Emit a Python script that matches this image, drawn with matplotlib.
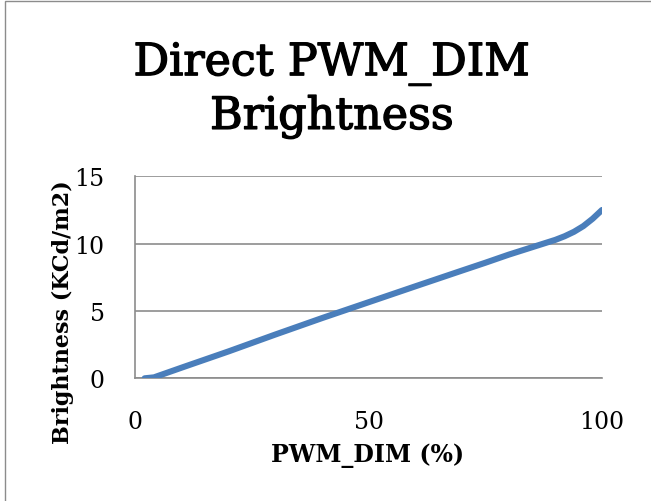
import matplotlib
matplotlib.use("Agg")
import matplotlib.pyplot as plt
import matplotlib.patheffects as pe
from matplotlib.patches import Rectangle

# ===========================
# データ
# ===========================
pwm_dim = [2, 4, 10, 20, 30, 40, 50, 60, 70, 75, 80, 85, 88, 90, 92, 94, 96, 98, 100]
brightness = [0.0, 0.07, 0.8, 2.0, 3.25, 4.47, 5.65, 6.83, 8.0, 8.58, 9.18, 9.73,
              10.06, 10.28, 10.55, 10.88, 11.3, 11.85, 12.5]

title = "Direct PWM_DIM\nBrightness"
x_label = "PWM_DIM (%)"
y_label = "Brightness (KCd/m2)"
x_ticks = [0, 50, 100]
y_ticks = [0, 5, 10, 15]

W, H = 651, 502
plt.rcParams['font.family'] = ['DejaVu Serif']

fig = plt.figure(figsize=(W / 100, H / 100), dpi=100)

# 外枠
fig.patches.append(Rectangle((5 / W, -0.1), 1.2, 1 - 2 / H + 0.1,
                             transform=fig.transFigure, fill=False,
                             edgecolor="#8c8c8c", linewidth=1.0))

ax = fig.add_axes([135.3 / W, 1 - 379.3 / H, (602 - 135.3) / W, (379.3 - 177.3) / H])

ax.plot(pwm_dim, brightness, color="#4A7EBB", linewidth=4.4,
        solid_capstyle="round", solid_joinstyle="round", zorder=3)

ax.set_xlim(0, 100)
ax.set_ylim(0, 15)
ax.set_xticks(x_ticks)
ax.set_yticks(y_ticks)
ax.tick_params(axis="both", length=0, labelsize=17)
ax.tick_params(axis="x", pad=23)
ax.tick_params(axis="y", pad=22)

ax.grid(axis="y", color="#8c8c8c", linewidth=1.2)
ax.set_axisbelow(True)
for s in ["top", "right"]:
    ax.spines[s].set_visible(False)
ax.spines["left"].set_color("#8c8c8c")
ax.spines["left"].set_linewidth(1.2)
ax.spines["bottom"].set_color("#8c8c8c")
ax.spines["bottom"].set_linewidth(1.2)

fig.text(332 / W, 1 - 91 / H, title, ha="center", va="center",
         fontsize=32, linespacing=1.25,
         path_effects=[pe.withStroke(linewidth=1.0, foreground="black")])
fig.text(368 / W, 1 - 456 / H, x_label, ha="center", va="center",
         fontsize=17, fontweight="bold")
fig.text(63 / W, 1 - 312 / H, y_label, ha="center", va="center",
         rotation=90, fontsize=16, fontweight="bold")

fig.savefig("out.png", dpi=100)
